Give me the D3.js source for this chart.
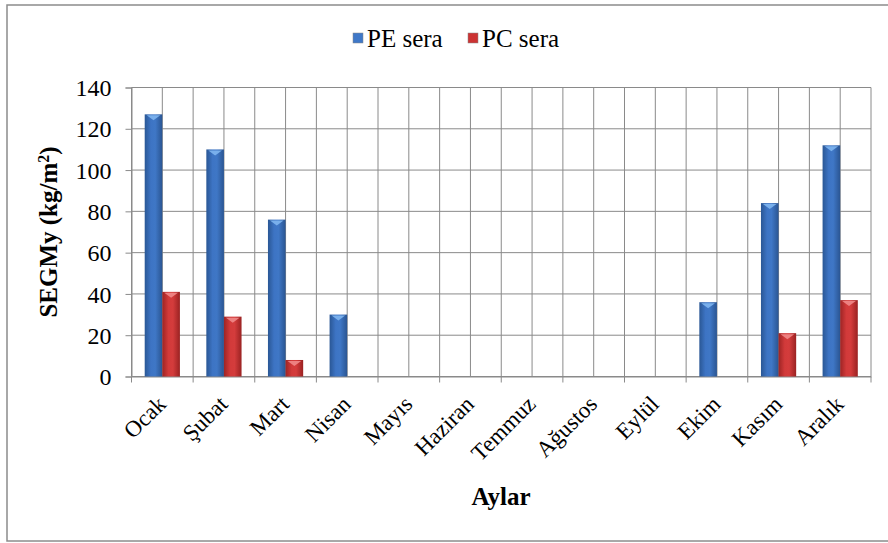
<!DOCTYPE html>
<html>
<head>
<meta charset="utf-8">
<script src="https://cdn.jsdelivr.net/npm/d3@7"></script>
<style>
  html, body { margin: 0; padding: 0; background: #fff; }
  svg { display: block; }
</style>
</head>
<body>
<svg id="chart" width="888" height="543"></svg>
<script>
// Monthly SEGMy values for the two greenhouse types
const months = ["Ocak", "Şubat", "Mart", "Nisan", "Mayıs", "Haziran",
                "Temmuz", "Ağustos", "Eylül", "Ekim", "Kasım", "Aralık"];
const peSera = [127, 110, 76, 30, 0, 0, 0, 0, 0, 36, 84, 112];
const pcSera = [41, 29, 8, 0, 0, 0, 0, 0, 0, 0, 21, 37];
const seriesNames = ["PE sera", "PC sera"];
const yTicks = [0, 20, 40, 60, 80, 100, 120, 140];

const FONT = "'Liberation Serif'";

const series = [
  { name: seriesNames[0], values: peSera, grad: "gradBlue", tip: "#7fb6f0", key: "#3f78c8" },
  { name: seriesNames[1], values: pcSera, grad: "gradRed", tip: "#f08a8a", key: "#cc3333" }
];

const svg = d3.select("#chart");
const W = 888, H = 543;
const plot = { left: 131.5, right: 871, top: 87.5, bottom: 376.5 };

// Outer frame
svg.append("rect").attr("x", 7).attr("y", 5).attr("width", W).attr("height", 536)
  .attr("fill", "#fff").attr("stroke", "#8c8c8c").attr("stroke-width", 1.5);

// Gradients for bar shading
const defs = svg.append("defs");
function addGrad(id, stops) {
  const g = defs.append("linearGradient").attr("id", id)
    .attr("x1", "0%").attr("x2", "100%").attr("y1", "0%").attr("y2", "0%");
  stops.forEach(([o, c]) => g.append("stop").attr("offset", o).attr("stop-color", c));
}
addGrad("gradBlue", [["0%", "#2a5795"], ["35%", "#3d74c4"], ["60%", "#3f77c6"], ["100%", "#2a5592"]]);
addGrad("gradRed", [["0%", "#9e2424"], ["35%", "#d23a3a"], ["60%", "#d43c3c"], ["100%", "#9a2222"]]);

const x = d3.scaleBand().domain(months).range([plot.left, plot.right]).paddingInner(0).paddingOuter(0);
const y = d3.scaleLinear().domain([0, 140]).range([plot.bottom, plot.top]);

const grid = svg.append("g");
// horizontal gridlines
grid.selectAll("line.h").data(yTicks).join("line")
  .attr("x1", plot.left).attr("x2", plot.right)
  .attr("y1", d => y(d)).attr("y2", d => y(d))
  .attr("stroke", "#8a8a8a").attr("stroke-width", 1);
// vertical gridlines at category edges and centres
const vEdges = [];
months.forEach(m => { vEdges.push(x(m)); vEdges.push(x(m) + x.bandwidth() / 2); });
vEdges.push(plot.right);
grid.selectAll("line.v").data(vEdges).join("line")
  .attr("y1", plot.top).attr("y2", plot.bottom)
  .attr("x1", d => d).attr("x2", d => d)
  .attr("stroke", "#8a8a8a").attr("stroke-width", 1);

// Axes
const yAxis = d3.axisLeft(y).tickValues(yTicks).tickSize(6).tickPadding(14);
const gy = svg.append("g").attr("transform", `translate(${plot.left},0)`).call(yAxis);
gy.attr("font-family", null).attr("font-size", null);
gy.select(".domain").attr("stroke", "#8a8a8a");
gy.selectAll(".tick line").attr("stroke", "#8a8a8a");
gy.selectAll(".tick text").attr("fill", "#000").attr("dy", "0.34em")
  .attr("font-family", FONT).attr("font-size", 24);

const xAxis = d3.axisBottom(x).tickSize(0).tickFormat("");
const gx = svg.append("g").attr("transform", `translate(0,${plot.bottom})`).call(xAxis);
gx.select(".domain").attr("stroke", "#8a8a8a");
// tick marks at category boundaries
gx.selectAll("line.edge").data(months.map(m => x(m)).concat([plot.right])).join("line")
  .attr("x1", d => d).attr("x2", d => d).attr("y1", 0).attr("y2", 6)
  .attr("stroke", "#8a8a8a");

// Category labels rotated 45°
svg.append("g").selectAll("text").data(months).join("text")
  .attr("transform", d => `translate(${x(d) + x.bandwidth() / 2 + 5},${plot.bottom + 29}) rotate(-45)`)
  .attr("text-anchor", "end")
  .attr("fill", "#000")
  .attr("font-family", FONT).attr("font-size", 23)
  .text(d => d);

// Bars — Excel-style gap width 150%: bar width = band / 3.5
const barW = x.bandwidth() / 3.5;
const barsG = svg.append("g");
series.forEach((s, si) => {
  const g = barsG.append("g");
  const data = months.map((m, i) => ({ m, v: s.values[i] })).filter(d => d.v > 0);
  const bx = d => x(d.m) + x.bandwidth() / 2 - barW + si * barW;
  g.selectAll("rect").data(data).join("rect")
    .attr("x", bx).attr("width", barW)
    .attr("y", d => y(d.v)).attr("height", d => y(0) - y(d.v))
    .attr("fill", `url(#${s.grad})`);
  // light bevel on top of each bar
  g.selectAll("path").data(data).join("path")
    .attr("d", d => {
      const x0 = bx(d), yt = y(d.v);
      return `M${x0 + 2},${yt + 1} L${x0 + barW - 2},${yt + 1} L${x0 + barW / 2},${yt + 6} Z`;
    })
    .attr("fill", s.tip).attr("opacity", 0.9);
});

// Legend
const legend = svg.append("g").attr("transform", "translate(353,47)");
const legItems = [{ x: 0, s: series[0] }, { x: 115, s: series[1] }];
legItems.forEach(it => {
  legend.append("rect").attr("x", it.x).attr("y", -14).attr("width", 10).attr("height", 10)
    .attr("fill", it.s.key).attr("stroke", "#888").attr("stroke-width", 0.5);
  legend.append("text").attr("x", it.x + 14).attr("y", 0)
    .attr("font-family", FONT).attr("font-size", 25)
    .attr("fill", "#000").text(it.s.name);
});

// Axis titles
const yTitle = svg.append("text")
  .attr("transform", `translate(57,${(plot.top + plot.bottom) / 2}) rotate(-90)`)
  .attr("text-anchor", "middle")
  .attr("font-family", FONT)
  .attr("font-size", 25).attr("font-weight", "bold").attr("fill", "#000");
yTitle.append("tspan").text("SEGMy (kg/m");
yTitle.append("tspan").attr("baseline-shift", "super").attr("font-size", 16).text("2");
yTitle.append("tspan").text(")");

svg.append("text").attr("x", 501).attr("y", 505).attr("text-anchor", "middle")
  .attr("font-family", FONT)
  .attr("font-size", 25).attr("font-weight", "bold").attr("fill", "#000").text("Aylar");
</script>
</body>
</html>
